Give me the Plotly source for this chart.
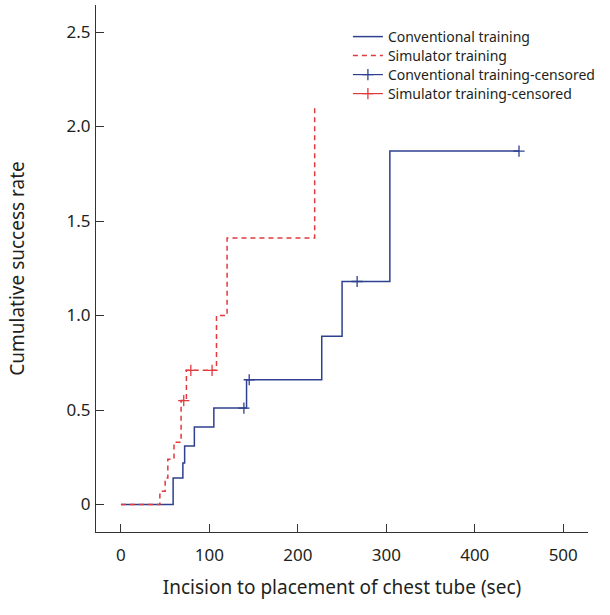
import plotly.graph_objects as go

# Conventional training: step times (sec) and cumulative success rate
conv_time = [0, 59, 70, 72, 83, 105, 142, 227, 250, 304, 450]
conv_rate = [0, 0.14, 0.22, 0.31, 0.41, 0.51, 0.66, 0.89, 1.18, 1.87, 1.87]
conv_cens_time = [139, 145, 267, 450]
conv_cens_rate = [0.51, 0.66, 1.18, 1.87]

# Simulator training
sim_time = [0, 44, 50, 53, 60, 68, 74, 108, 120, 219]
sim_rate = [0, 0.07, 0.14, 0.24, 0.33, 0.55, 0.71, 1.00, 1.41, 2.10]
sim_cens_time = [71, 79, 103]
sim_cens_rate = [0.55, 0.71, 0.71]

x_ticks = [0, 100, 200, 300, 400, 500]
y_ticks = [0, 0.5, 1.0, 1.5, 2.0, 2.5]
y_ticktext = ["0", "0.5", "1.0", "1.5", "2.0", "2.5"]

BLUE = "#2e4090"
RED = "#e03a3e"
FONT = "Noto Sans"
TXT = "#231f20"


def gapped(vals):
    out = []
    for v in vals:
        out += [v, None]
    return out


fig = go.Figure()
fig.add_trace(go.Scatter(
    x=conv_time, y=conv_rate, mode="lines", line=dict(color=BLUE, width=1.5, shape="hv"),
    name="Conventional training", legend="legend"))
fig.add_trace(go.Scatter(
    x=sim_time, y=sim_rate, mode="lines", line=dict(color=RED, width=1.5, shape="hv", dash="5px,4px"),
    name="Simulator training", legend="legend2"))
fig.add_trace(go.Scatter(
    x=gapped(conv_cens_time), y=gapped(conv_cens_rate), mode="lines+markers",
    connectgaps=False,
    line=dict(color=BLUE, width=1.2),
    marker=dict(symbol="cross-thin", size=8, line=dict(color=BLUE, width=1.3)),
    name="Conventional training-censored", legend="legend3"))
fig.add_trace(go.Scatter(
    x=gapped(sim_cens_time), y=gapped(sim_cens_rate), mode="lines+markers",
    connectgaps=False,
    line=dict(color=RED, width=1.2),
    marker=dict(symbol="cross-thin", size=8, line=dict(color=RED, width=1.3)),
    name="Simulator training-censored", legend="legend4"))


def leg(ypix):
    return dict(x=0.512, y=(532 - ypix) / 527, xanchor="left", yanchor="middle",
                font=dict(family=FONT, size=14, color=TXT),
                bgcolor="rgba(0,0,0,0)", itemwidth=30)


fig.update_layout(
    width=610, height=615,
    margin=dict(l=96, r=22, t=5, b=83),
    paper_bgcolor="white", plot_bgcolor="white",
    font=dict(family=FONT, color=TXT, size=17),
    showlegend=True,
    legend=leg(37), legend2=leg(56), legend3=leg(75), legend4=leg(94),
    xaxis=dict(range=[-28.2, 528], tickvals=x_ticks, ticks="inside", ticklen=8,
               tickcolor="#333", showline=True, linecolor="#333", linewidth=1.3,
               showgrid=False, zeroline=False, tickfont=dict(size=17),
               ticklabelstandoff=7, automargin=False,
               title=dict(text="Incision to placement of chest tube (sec)",
                          font=dict(size=19), standoff=16)),
    yaxis=dict(range=[-0.1455, 2.643], tickvals=y_ticks, ticktext=y_ticktext,
               ticks="inside", ticklen=8, tickcolor="#333",
               showline=True, linecolor="#333", linewidth=1.3,
               showgrid=False, zeroline=False, tickfont=dict(size=17),
               ticklabelstandoff=1, automargin=False,
               title=dict(text="Cumulative success rate", font=dict(size=19), standoff=36)),
)

fig.write_html("out.html", config={"displayModeBar": False},
               post_script="document.body.style.margin='0';")
